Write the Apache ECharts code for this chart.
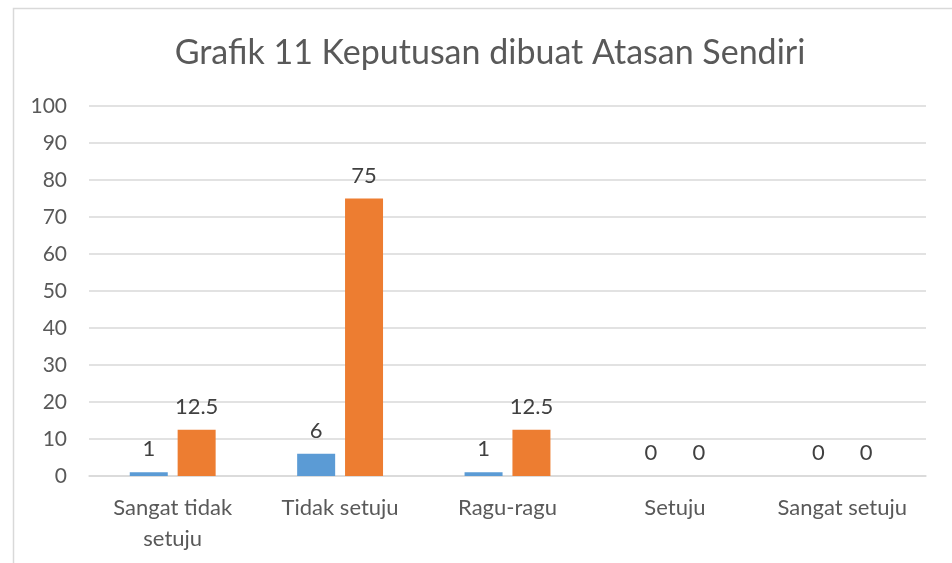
<!DOCTYPE html>
<html>
<head>
<meta charset="utf-8">
<script src="https://cdn.jsdelivr.net/npm/echarts@6/dist/echarts.min.js"></script>
<style>
  html, body { margin: 0; padding: 0; background: #fff; }
  #chart { width: 952px; height: 563px; }
</style>
</head>
<body>
<div id="chart"></div>
<script>
  // data
  var categories = ['Sangat tidak\nsetuju', 'Tidak setuju', 'Ragu-ragu', 'Setuju', 'Sangat setuju'];
  var seriesA = [1, 6, 1, 0, 0];
  var seriesB = [12.5, 75, 12.5, 0, 0];
  var titleText = 'Grafik 11 Keputusan dibuat Atasan Sendiri';

  var font = 'Lato, "Open Sans", sans-serif';
  var myChart = echarts.init(document.getElementById('chart'));

  var labelStyle = {
    show: true,
    position: 'top',
    distance: 12,
    color: '#404040',
    fontSize: 22,
    fontFamily: font
  };

  var option = {
    animation: false,
    graphic: [{
      type: 'rect',
      shape: { x: 13.5, y: 8.5, width: 960, height: 600 },
      style: { fill: 'none', stroke: '#d9d9d9', lineWidth: 1.5 },
      z: -1
    }],
    title: {
      text: titleText,
      left: 485,
      top: 31,
      textAlign: 'center',
      textStyle: { color: '#595959', fontSize: 34, fontWeight: 'normal', fontFamily: font }
    },
    grid: { left: 89, right: 26, top: 106, bottom: 87, containLabel: false },
    xAxis: {
      type: 'category',
      data: categories,
      axisLine: { lineStyle: { color: '#d9d9d9', width: 1.5 } },
      axisTick: { show: false },
      axisLabel: {
        color: '#595959', fontSize: 22, fontFamily: font,
        margin: 16, lineHeight: 31, interval: 0
      }
    },
    yAxis: {
      type: 'value',
      min: 0,
      max: 100,
      interval: 10,
      axisLine: { show: false },
      axisTick: { show: false },
      splitLine: { lineStyle: { color: '#d9d9d9', width: 1.5 } },
      axisLabel: { color: '#595959', fontSize: 21, fontFamily: font, margin: 22 }
    },
    series: [
      {
        name: 'A',
        type: 'bar',
        data: seriesA,
        barWidth: 38,
        barGap: '26%',
        itemStyle: { color: '#5b9bd5' },
        label: labelStyle
      },
      {
        name: 'B',
        type: 'bar',
        data: seriesB,
        barWidth: 38,
        itemStyle: { color: '#ed7d31' },
        label: labelStyle
      }
    ]
  };

  myChart.setOption(option);
</script>
</body>
</html>
